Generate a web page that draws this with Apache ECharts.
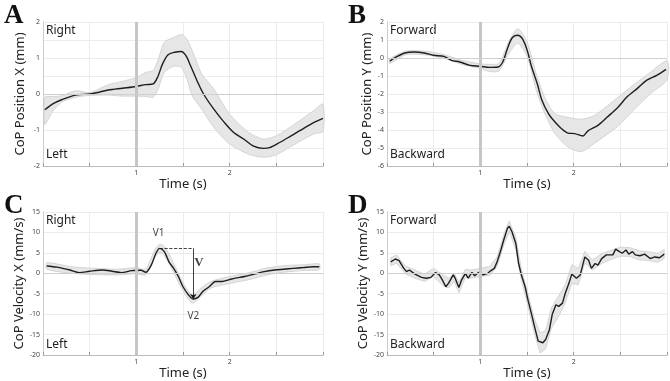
<!DOCTYPE html>
<html>
<head>
<meta charset="utf-8">
<script src="https://cdn.jsdelivr.net/npm/echarts@6/dist/echarts.min.js"></script>
<style>
  html, body { margin: 0; padding: 0; background: #fff; }
  #main { width: 670px; height: 381px; }
</style>
</head>
<body>
<div id="main"></div>
<script>
// ---- A: CoP position X ----
var tA = [0.02, 0.1, 0.2, 0.35, 0.5, 0.6, 0.7, 0.85, 1.0, 1.1, 1.18, 1.23, 1.28, 1.34, 1.41, 1.48, 1.53, 1.58, 1.65, 1.72, 1.83, 1.94, 2.04, 2.15, 2.25, 2.36, 2.43, 2.54, 2.64, 2.75, 2.89, 3.0];
var meanA = [-0.44, -0.28, -0.16, -0.03, 0, 0.05, 0.11, 0.16, 0.21, 0.26, 0.28, 0.48, 0.83, 1.09, 1.16, 1.18, 1.07, 0.79, 0.37, 0, -0.42, -0.78, -1.06, -1.25, -1.44, -1.51, -1.49, -1.34, -1.19, -1.02, -0.81, -0.68];
var bandTA = [0.02, 0.1, 0.2, 0.35, 0.5, 0.7, 0.85, 1.0, 1.1, 1.18, 1.23, 1.3, 1.4, 1.48, 1.53, 1.6, 1.7, 1.83, 2.0, 2.2, 2.36, 2.5, 2.7, 2.9, 3.0];
var loA = [-0.85, -0.5, -0.23, -0.09, -0.04, -0.03, -0.06, -0.06, -0.07, -0.09, 0.11, 0.6, 0.77, 0.74, 0.51, -0.05, -0.42, -0.93, -1.39, -1.67, -1.76, -1.69, -1.39, -1.11, -1.04];
var hiA = [-0.09, -0.07, -0.05, 0.09, 0.04, 0.26, 0.35, 0.46, 0.6, 0.65, 0.93, 1.44, 1.57, 1.65, 1.57, 1.2, 0.56, 0.14, -0.56, -1.06, -1.25, -1.16, -0.83, -0.46, -0.28];

// ---- B: CoP position Y ----
var tB = [0.03, 0.1, 0.19, 0.29, 0.4, 0.5, 0.61, 0.69, 0.78, 0.89, 1.0, 1.1, 1.19, 1.24, 1.29, 1.34, 1.4, 1.45, 1.5, 1.55, 1.61, 1.66, 1.73, 1.8, 1.87, 1.94, 2.01, 2.1, 2.15, 2.26, 2.36, 2.47, 2.57, 2.68, 2.78, 2.89, 2.99];
var meanB = [-0.17, 0.06, 0.28, 0.33, 0.28, 0.15, 0.09, -0.13, -0.22, -0.41, -0.46, -0.52, -0.5, -0.22, 0.52, 1.11, 1.26, 1.07, 0.46, -0.5, -1.43, -2.35, -3.09, -3.56, -3.93, -4.17, -4.2, -4.33, -4.06, -3.74, -3.28, -2.76, -2.17, -1.7, -1.24, -0.96, -0.63];
var bandTB = [0.03, 0.2, 0.4, 0.6, 0.8, 1.0, 1.1, 1.2, 1.3, 1.4, 1.5, 1.6, 1.7, 1.8, 1.94, 2.08, 2.22, 2.47, 2.64, 2.82, 3.0];
var loB = [-0.3, 0.18, 0.18, 0.0, -0.35, -0.58, -0.75, -0.72, 0.2, 0.82, 0.1, -1.8, -3.2, -4.2, -4.95, -5.2, -4.75, -3.8, -2.9, -2.0, -1.2];
var hiB = [-0.05, 0.38, 0.38, 0.2, -0.12, -0.33, -0.35, -0.3, 0.85, 1.63, 0.9, -0.9, -2.3, -3.1, -3.3, -3.4, -3.2, -2.2, -1.5, -0.8, -0.15];

// ---- C: CoP velocity X ----
var tC = [0.04, 0.15, 0.29, 0.39, 0.5, 0.64, 0.74, 0.84, 0.95, 1.05, 1.1, 1.16, 1.21, 1.25, 1.3, 1.35, 1.4, 1.45, 1.5, 1.56, 1.61, 1.66, 1.71, 1.78, 1.85, 1.92, 1.99, 2.06, 2.16, 2.27, 2.37, 2.48, 2.58, 2.68, 2.79, 2.89, 2.96];
var meanC = [1.8, 1.5, 0.8, 0.16, 0.5, 0.8, 0.5, 0.16, 0.65, 0.73, 0.24, 2.0, 4.9, 6.1, 5.3, 2.8, 1.2, -0.8, -3.3, -5.3, -6.3, -5.9, -4.5, -3.3, -2.0, -2.0, -1.6, -1.2, -0.8, -0.16, 0.4, 0.8, 1.0, 1.2, 1.4, 1.6, 1.6];
var bandTC = [0.04, 0.3, 0.5, 0.8, 1.0, 1.1, 1.2, 1.25, 1.3, 1.4, 1.5, 1.6, 1.7, 1.8, 2.0, 2.2, 2.4, 2.6, 2.8, 2.96];
var loC = [1.0, 0.0, -0.3, -0.4, -0.1, -0.4, 3.9, 5.1, 4.3, 0.2, -4.3, -7.3, -5.5, -3.6, -2.5, -1.6, -0.4, 0.3, 0.7, 0.9];
var hiC = [2.6, 1.6, 1.3, 1.0, 1.4, 1.0, 5.9, 7.1, 6.6, 2.5, -2.3, -5.3, -3.5, -2.0, -0.8, 0.1, 1.3, 1.9, 2.1, 2.3];

// ---- D: CoP velocity Y ----
var tD = [0.04, 0.09, 0.13, 0.18, 0.21, 0.24, 0.3, 0.37, 0.42, 0.47, 0.52, 0.56, 0.59, 0.63, 0.66, 0.71, 0.73, 0.77, 0.8, 0.84, 0.87, 0.91, 0.94, 0.98, 1.03, 1.08, 1.11, 1.15, 1.18, 1.22, 1.25, 1.29, 1.31, 1.34, 1.38, 1.41, 1.44, 1.48, 1.51, 1.55, 1.58, 1.62, 1.67, 1.7, 1.74, 1.77, 1.81, 1.84, 1.88, 1.91, 1.95, 1.98, 2.03, 2.07, 2.12, 2.16, 2.19, 2.23, 2.26, 2.3, 2.35, 2.42, 2.45, 2.49, 2.52, 2.56, 2.59, 2.63, 2.66, 2.71, 2.76, 2.82, 2.87, 2.92, 2.97];
var meanD = [2.8, 3.5, 3.1, 1.2, 0.4, 0.8, -0.2, -1.0, -1.2, -1.0, 0.2, -0.4, -1.5, -3.3, -2.4, -0.4, -1.2, -3.5, -1.6, 0, -1.2, 0.2, -0.6, 0.2, -0.4, 0, 0.6, 1.2, 2.8, 5.7, 8.1, 11, 11.5, 10.1, 7.3, 2.4, -0.4, -3.3, -6.5, -10.1, -13, -16.6, -17, -16.2, -13.8, -10.1, -7.7, -8.1, -7.3, -4.9, -2.4, -0.2, -1.2, -0.4, 4.0, 3.2, 1.2, 2.4, 2.0, 3.6, 4.5, 4.5, 5.9, 5.3, 4.9, 5.7, 4.7, 5.3, 4.5, 4.3, 4.7, 3.6, 4.0, 3.8, 4.7];
var bandTD = [0.04, 0.1, 0.2, 0.3, 0.4, 0.5, 0.6, 0.66, 0.72, 0.77, 0.84, 0.9, 1.0, 1.1, 1.18, 1.25, 1.31, 1.38, 1.44, 1.51, 1.58, 1.64, 1.7, 1.76, 1.84, 1.91, 1.98, 2.05, 2.12, 2.2, 2.3, 2.4, 2.5, 2.6, 2.7, 2.8, 2.9, 2.97];
var loD = [1.8, 2.5, -0.2, -1.2, -2.0, -0.8, -3.0, -3.6, -2.0, -4.8, -1.0, -1.2, -0.8, -0.5, 1.6, 6.8, 10.2, 5.8, -1.8, -8.0, -14.8, -19.5, -18.5, -13.5, -10.5, -7.2, -2.5, -2.8, 2.6, 0.8, 2.4, 3.4, 4.2, 4.1, 3.3, 3.1, 2.7, 3.6];
var hiD = [3.8, 4.5, 1.8, 0.8, -0.2, 1.2, -0.4, -1.2, 0.0, -2.2, 1.0, 0.8, 1.2, 1.7, 4.0, 9.4, 12.8, 8.8, 1.0, -5.0, -11.2, -14.6, -14.0, -8.5, -5.5, -2.8, 2.1, 1.2, 5.4, 3.2, 4.8, 5.6, 6.4, 6.3, 5.5, 5.3, 4.9, 5.8];

var xTicks = [1, 2];
var panelLetters = ['A', 'B', 'C', 'D'];
var yNames = ['CoP Position X (mm)', 'CoP Position Y (mm)', 'CoP Velocity X (mm/s)', 'CoP Velocity Y (mm/s)'];
var topLabels = ['Right', 'Forward', 'Right', 'Forward'];
var bottomLabels = ['Left', 'Backward', 'Left', 'Backward'];

var font = 'Noto Sans';

var panels = [
	{ t: tA, m: meanA, bt: bandTA, lo: loA, hi: hiA, min: -2, max: 2, step: 1, minor: 2, smooth: 0.3 },
	{ t: tB, m: meanB, bt: bandTB, lo: loB, hi: hiB, min: -6, max: 2, step: 1, minor: 0, smooth: 0.3 },
	{ t: tC, m: meanC, bt: bandTC, lo: loC, hi: hiC, min: -20, max: 15, step: 5, minor: 0, smooth: 0.3 },
	{ t: tD, m: meanD, bt: bandTD, lo: loD, hi: hiD, min: -20, max: 15, step: 5, minor: 0, smooth: false }
];

var grids = [
	{ left: 43, top: 22, width: 280, height: 144 },
	{ left: 387, top: 22, width: 281, height: 144 },
	{ left: 43, top: 212, width: 280, height: 144 },
	{ left: 387, top: 212, width: 281, height: 144 }
];

function pairs(xs, ys) {
	return xs.map(function(x, i) { return [x, ys[i]]; });
}

// shaded band: one polygon through the upper edge and back along the lower edge
function bandRenderer(p) {
	return function(params, api) {
		if (params.dataIndex !== 0) return null;
		var pts = [];
		p.bt.forEach(function(t, k) { pts.push(api.coord([t, p.hi[k]])); });
		for (var k = p.bt.length - 1; k >= 0; k--) pts.push(api.coord([p.bt[k], p.lo[k]]));
		return {
			type: 'polygon',
			shape: { points: pts, smooth: p.smooth ? 0.25 : 0 },
			style: { fill: '#e6e6e6', stroke: '#c8c8c8', lineWidth: 0.7 }
		};
	};
}

var xAxes = [], yAxes = [], series = [], graphics = [];

panels.forEach(function(p, i) {
	xAxes.push({
		gridIndex: i, type: 'value', min: 0, max: 3, interval: 0.5,
		name: 'Time (s)', nameLocation: 'middle', nameGap: 12,
		nameTextStyle: { fontFamily: font, fontSize: 13, color: '#222' },
		axisLine: { onZero: false, lineStyle: { color: '#bbb', width: 1 } },
		axisTick: { inside: true, length: 3, lineStyle: { color: '#999' } },
		axisLabel: {
			fontFamily: font, fontSize: 7, color: '#444', margin: 3,
			formatter: function(v) { return xTicks.indexOf(v) >= 0 ? String(v) : ''; }
		},
		splitLine: { show: true, lineStyle: { color: '#ececec', width: 1 } }
	});
	var y = {
		gridIndex: i, type: 'value', min: p.min, max: p.max, interval: p.step,
		name: yNames[i], nameLocation: 'middle', nameGap: i % 2 === 0 ? 16 : 12,
		nameTextStyle: { fontFamily: font, fontSize: 13, color: '#222' },
		axisLine: { show: true, lineStyle: { color: '#ccc', width: 1 } },
		axisTick: { show: false },
		axisLabel: { fontFamily: font, fontSize: 7, color: '#444', margin: 3 },
		splitLine: { show: true, lineStyle: { color: '#ececec', width: 1 } }
	};
	if (p.minor) {
		y.minorTick = { show: false, splitNumber: p.minor };
		y.minorSplitLine = { show: true, lineStyle: { color: '#ececec', width: 1 } };
	}
	yAxes.push(y);

	series.push({
		type: 'custom', xAxisIndex: i, yAxisIndex: i, silent: true, z: 1,
		data: p.bt.map(function(t, k) { return [t, p.lo[k], p.hi[k]]; }),
		encode: { x: 0, y: [1, 2] },
		renderItem: bandRenderer(p)
	});
	series.push({
		type: 'line', xAxisIndex: i, yAxisIndex: i,
		data: pairs(p.t, p.m), symbol: 'none', smooth: p.smooth,
		lineStyle: { color: '#1e1e1e', width: 1.4 }, z: 3,
		markLine: {
			silent: true, symbol: ['none', 'none'], label: { show: false },
			data: [
				{ xAxis: 1, lineStyle: { color: '#c6c6c6', width: 3, type: 'solid' } },
				{ yAxis: 0, lineStyle: { color: '#cfcfcf', width: 1.2, type: 'solid' } }
			]
		}
	});

	var g = grids[i];
	graphics.push({
		type: 'text', left: g.left - 39, top: g.top - 19,
		style: { text: panelLetters[i], font: 'bold 27px "Liberation Serif"', fill: '#111' }
	});
	graphics.push({
		type: 'text', left: g.left + 3, top: g.top + 3,
		style: { text: topLabels[i], font: '12px "Noto Sans"', fill: '#222' }
	});
	graphics.push({
		type: 'text', left: g.left + 3, top: g.top + 127,
		style: { text: bottomLabels[i], font: '12px "Noto Sans"', fill: '#222' }
	});
});

// V annotation on panel C
var v1 = [1.25, 6.1];
var v2 = [1.61, -6.3];
series.push({
	type: 'line', xAxisIndex: 2, yAxisIndex: 2, data: [], z: 4,
	markLine: {
		silent: true, label: { show: false },
		data: [
			[{ coord: v1, symbol: 'none' }, { coord: [v2[0], v1[1]], symbol: 'none', lineStyle: { type: 'dashed', color: '#111', width: 0.8 } }],
			[{ coord: [v2[0], v1[1]], symbol: 'none' }, { coord: v2, symbol: 'arrow', symbolSize: 5, lineStyle: { type: 'solid', color: '#111', width: 0.8 } }]
		],
		lineStyle: { color: '#111', width: 0.8 }
	}
});
series.push({
	type: 'scatter', xAxisIndex: 2, yAxisIndex: 2, symbolSize: 0, silent: true, z: 5,
	data: [
		{ value: [1.24, 9.9], label: { formatter: 'V1' } },
		{ value: [1.61, -10.4], label: { formatter: 'V2' } },
		{ value: [1.67, 2.6], label: { formatter: 'V', fontFamily: 'Liberation Serif', fontWeight: 'bold', fontSize: 13 } }
	],
	label: { show: true, position: 'inside', fontFamily: font, fontSize: 10, color: '#111' }
});

var chart = echarts.init(document.getElementById('main'), null, { renderer: 'canvas' });
chart.setOption({
	backgroundColor: '#fff',
	animation: false,
	grid: grids,
	xAxis: xAxes,
	yAxis: yAxes,
	series: series,
	graphic: graphics
});
</script>
</body>
</html>
